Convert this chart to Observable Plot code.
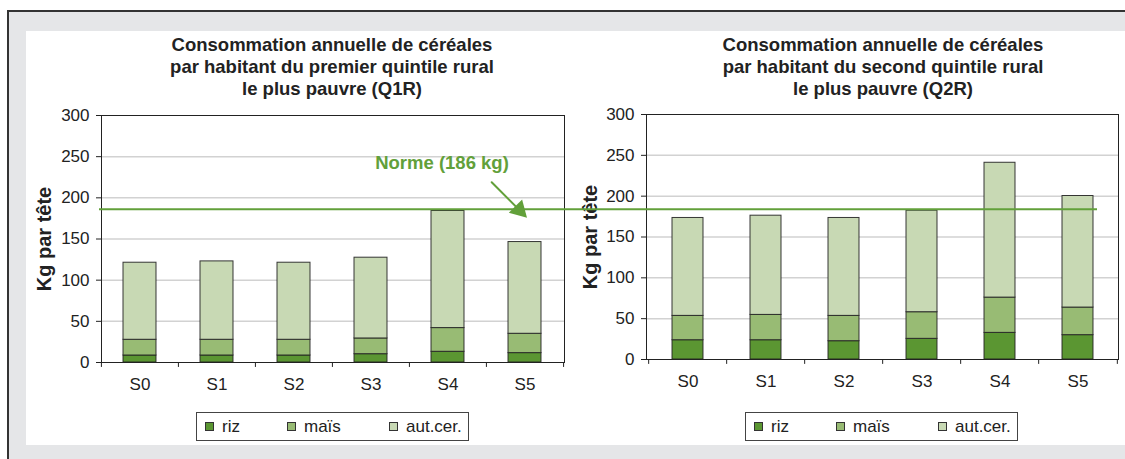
<!DOCTYPE html>
<html><head><meta charset="utf-8">
<script src="https://cdn.jsdelivr.net/npm/d3@7"></script>
<script src="https://cdn.jsdelivr.net/npm/@observablehq/plot@0.6"></script>
<style>
html,body{margin:0;padding:0;background:#fff;}
body{width:1125px;height:459px;overflow:hidden;position:relative;font-family:"Liberation Sans",Arial,sans-serif;color:#222;}
#outer{position:absolute;left:7px;top:10px;width:1130px;height:460px;background:#e5e6e8;border-top:2px solid #333;border-left:2px solid #333;}
#panel{position:absolute;left:26px;top:31px;width:1099px;height:414px;background:#fff;}
.title{position:absolute;top:34px;width:440px;text-align:center;font-weight:bold;font-size:18.5px;line-height:22px;color:#222;}
.legend{position:absolute;top:412px;width:271px;height:27px;border:1px solid #444;background:#fff;font-size:17px;}
.legend .item{position:absolute;top:0;height:27px;display:flex;align-items:center;}
.legend .sw{width:7px;height:7px;border:1px solid #333;margin-right:8px;}
.chart{position:absolute;top:100px;}
</style>
</head><body>
<div id="outer"></div>
<div id="panel"></div>
<div id="root"></div>
<script>
// ---- data ----
const categories = ["S0", "S1", "S2", "S3", "S4", "S5"];
const cereals = ["riz", "maïs", "aut.cer."];
const cerealColors = ["#5b9632", "#98bb74", "#c8d9b4"];
const q1rRiz  = [8.5, 8.5, 8.5, 10.1, 13.0, 11.4];
const q1rMais = [19.1, 19.1, 19.1, 19.1, 28.8, 23.5];
const q1rAut  = [93.6, 95.2, 93.6, 98.1, 142.2, 111.4];
const q2rRiz  = [23.6, 23.6, 22.4, 25.3, 32.6, 29.8];
const q2rMais = [29.8, 31.0, 31.0, 32.6, 43.2, 33.8];
const q2rAut  = [119.9, 121.5, 119.9, 124.3, 165.1, 136.6];
const yTicks = [0, 50, 100, 150, 200, 250, 300];
const gridTicks = [50, 100, 150, 200, 250];
const norme = 186;
const normeLabel = "Norme (186 kg)";
const yLabel = "Kg par tête";
const title1 = ["Consommation annuelle de céréales", "par habitant du premier quintile rural", "le plus pauvre (Q1R)"];
const title2 = ["Consommation annuelle de céréales", "par habitant du second quintile rural", "le plus pauvre (Q2R)"];

const green = "#62a03a";
const ink = "#222";

function rowsOf(riz, mais, aut) {
  const vals = [riz, mais, aut];
  return categories.flatMap((c, i) => cereals.map((k, j) => ({cat: c, cereal: k, value: vals[j][i]})));
}

function chart(rows, o) {
  const plotW = o.width - o.marginLeft - o.marginRight;
  const step = plotW / categories.length;
  const marks = [
    Plot.gridY(gridTicks, {stroke: "#d2d2d2", strokeOpacity: 1, strokeWidth: 1.5}),
    Plot.barY(rows, {x: "cat", y: "value", fill: "cereal", stroke: ink, strokeWidth: 1, strokeOpacity: 0.9}),
    Plot.frame({stroke: ink}),
    Plot.axisY(yTicks, {tickSize: 5, tickPadding: 7, label: null, fontSize: 17}),
    Plot.axisX({tickSize: 0, tickPadding: 15, label: null, fontSize: 17}),
    Plot.ruleX(categories, {x: d => d, y1: 0, y2: -6, dx: -step / 2, stroke: ink}),
    Plot.ruleX(categories.slice(-1), {x: d => d, y1: 0, y2: -6, dx: step / 2, stroke: ink}),
    Plot.text([yLabel], {frameAnchor: "left", rotate: -90, dx: o.labelDx, textAnchor: "middle", fontWeight: "bold", fontSize: 20, fill: ink}),
    ...(o.extra || [])
  ];
  return Plot.plot({
    width: o.width, height: 300,
    marginLeft: o.marginLeft, marginRight: o.marginRight, marginTop: o.marginTop, marginBottom: o.marginBottom,
    x: {domain: categories, paddingInner: o.pad, paddingOuter: o.pad / 2},
    y: {domain: [0, 300]},
    color: {domain: cereals, range: cerealColors},
    style: {background: "transparent", overflow: "visible", fontFamily: "'Liberation Sans', Arial, sans-serif", fontSize: "17px", color: ink},
    marks
  });
}

const root = document.getElementById("root");

// right chart (drawn first so the norm line from the left chart lies over it)
const right = chart(rowsOf(q2rRiz, q2rMais, q2rAut), {
  width: 550, marginLeft: 71, marginRight: 7, marginTop: 14, marginBottom: 41, pad: 0.606, labelDx: -56
});
right.classList.add("chart");
right.style.left = "575px";
root.appendChild(right);

const left = chart(rowsOf(q1rRiz, q1rMais, q1rAut), {
  width: 575, marginLeft: 101, marginRight: 11, marginTop: 15, marginBottom: 38, pad: 0.57, labelDx: -57,
  extra: [
    Plot.ruleY([norme], {stroke: green, strokeWidth: 2, insetLeft: -2, insetRight: -(1097 - 564)}),
    Plot.text([normeLabel], {x: () => "S4", y: () => 242, dx: -6, fill: green, fontWeight: "bold", fontSize: 18.5}),
    Plot.arrow([0], {x1: () => "S4", y1: () => 269.6, x2: () => "S5", y2: () => 176, dx: 2, insetStart: 59, insetEnd: 8, headLength: 0, stroke: green, strokeWidth: 2}),
    Plot.dot([0], {x: () => "S5", y: () => 185.3, dx: -5.7, symbol: "triangle", rotate: 135, r: 7, fill: green, stroke: "none"})
  ]
});
left.classList.add("chart");
left.style.left = "0px";
root.appendChild(left);

// titles
[[title1, 332], [title2, 883]].forEach(([lines, cx]) => {
  const d = document.createElement("div");
  d.className = "title";
  d.style.left = (cx - 220) + "px";
  d.innerHTML = lines.join("<br>");
  root.appendChild(d);
});

// legends
const itemOffsets = [8, 90, 192];
[196, 745].forEach(lx => {
  const lg = document.createElement("div");
  lg.className = "legend";
  lg.style.left = lx + "px";
  cereals.forEach((k, i) => {
    const it = document.createElement("div");
    it.className = "item";
    it.style.left = itemOffsets[i] + "px";
    const sw = document.createElement("span");
    sw.className = "sw";
    sw.style.background = cerealColors[i];
    const tx = document.createElement("span");
    tx.textContent = k;
    it.appendChild(sw); it.appendChild(tx);
    lg.appendChild(it);
  });
  root.appendChild(lg);
});
</script>
</body></html>
